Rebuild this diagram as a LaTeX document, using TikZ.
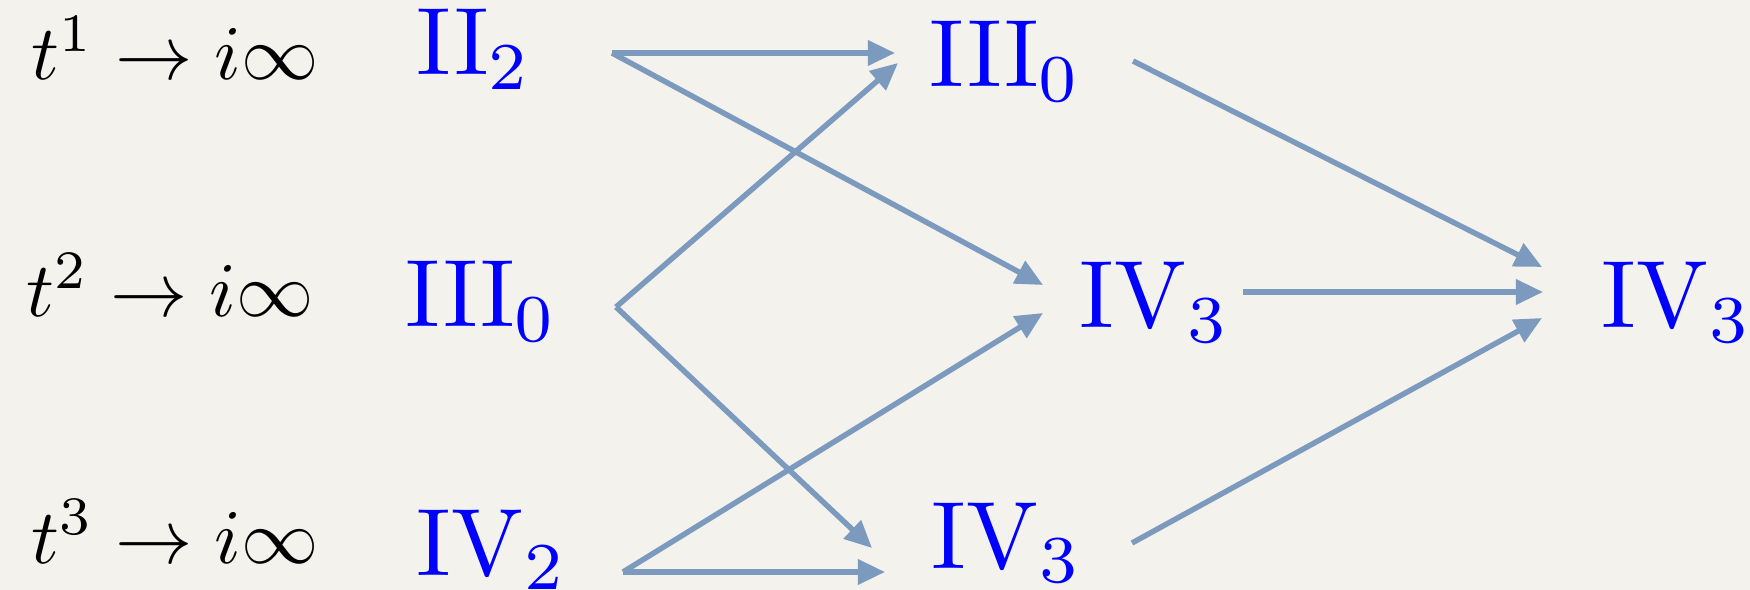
\documentclass[tikz,border=0pt]{standalone}
\usetikzlibrary{arrows.meta}

\definecolor{paper}{RGB}{244,242,237}
\definecolor{flowblue}{RGB}{123,154,189}

\tikzset{
  limit/.style={anchor=base west, inner sep=0pt, scale=4.4, transform shape},
  fibre/.style={anchor=base west, inner sep=0pt, text=blue, scale=5.45, transform shape},
  flow/.style={->, line width=3.1pt, draw=flowblue},
}

\begin{document}
\begin{tikzpicture}[x=0.02cm, y=-0.02cm, >={Triangle[length=15.5pt, width=14pt]}]
        % Background
        \fill[paper] (0,0) rectangle (1750,590);
        \useasboundingbox (0,0) rectangle (1750,590);

        % Limits
        \node[limit] (lim1) at (30,80) {$t^1 \to i\infty$};
        \node[limit] (lim2) at (25,317) {$t^2 \to i\infty$};
        \node[limit] (lim3) at (30,563) {$t^3 \to i\infty$};

        % Fibre types
        \node[fibre] (ii2) at (415,75) {$\mathrm{II}_2$};
        \node[fibre] (iii0b) at (404,327) {$\mathrm{III}_0$};
        \node[fibre] (iv2) at (415,575) {$\mathrm{IV}_2$};
        \node[fibre] (iii0a) at (928,87) {$\mathrm{III}_0$};
        \node[fibre] (iv3a) at (1078,328) {$\mathrm{IV}_3$};
        \node[fibre] (iv3c) at (930,568) {$\mathrm{IV}_3$};
        \node[fibre] (iv3b) at (1600,328) {$\mathrm{IV}_3$};

        % Arrow ends
        \coordinate (ii2o) at (612,53);
        \coordinate (iii0bo) at (616,307);
        \coordinate (iv2o) at (623,572);
        \coordinate (iii0ao) at (1133,61);
        \coordinate (iv3ao) at (1243,292);
        \coordinate (iv3co) at (1132,543);
        \coordinate (iii0ai) at (895,53);
        \coordinate (iii0aj) at (898,63);
        \coordinate (iv3ai) at (1043,285);
        \coordinate (iv3aj) at (1043,313);
        \coordinate (iv3ci) at (872,548);
        \coordinate (iv3cj) at (885,572);
        \coordinate (iv3bi) at (1542,267);
        \coordinate (iv3bj) at (1543,292);
        \coordinate (iv3bk) at (1542,318);

        % First step
        \draw[flow] (ii2o) -- (iii0ai);
        \draw[flow] (ii2o) -- (iv3ai);
        \draw[flow] (iii0bo) -- (iii0aj);
        \draw[flow] (iii0bo) -- (iv3ci);
        \draw[flow] (iv2o) -- (iv3aj);
        \draw[flow] (iv2o) -- (iv3cj);

        % Second step
        \draw[flow] (iii0ao) -- (iv3bi);
        \draw[flow] (iv3ao) -- (iv3bj);
        \draw[flow] (iv3co) -- (iv3bk);
    \end{tikzpicture}
\end{document}
